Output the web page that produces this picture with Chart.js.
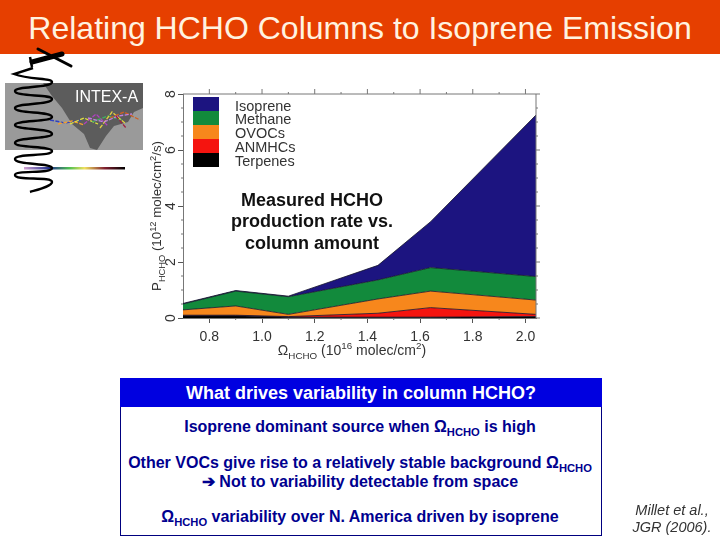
<!DOCTYPE html>
<html>
<head>
<meta charset="utf-8">
<title>Relating HCHO Columns to Isoprene Emission</title>
<script src="https://cdn.jsdelivr.net/npm/chart.js@4"></script>
<style>
  html, body { margin: 0; padding: 0; background: #fff; }
  #page { position: relative; width: 720px; height: 540px; overflow: hidden; font-family: "Liberation Sans", Arial, sans-serif; }
  #page > * { position: absolute; }
  #chart { left: 0; top: 0; }
  #header { left: 0; top: 0; width: 720px; height: 54px; background: #e63f00; }
  #title { left: 0; top: 9px; width: 720px; text-align: center; color: #fff3e0; font-size: 32px; line-height: 38px; white-space: nowrap; }
  #deco { left: 0; top: 0; }
  #inset { left: 75px; top: 88px; color: #fff; font-size: 16px; line-height: 18px; }
  .legend-swatch { left: 193px; width: 26px; height: 14px; }
  .legend-label { left: 235px; font-size: 14.5px; line-height: 14px; color: #333; }
  #note { left: 202px; top: 190px; width: 220px; text-align: center; font-weight: bold; font-size: 18px; line-height: 21.3px; color: #111; }
  #xtitle { left: 183px; top: 342px; width: 338px; text-align: center; font-size: 14px; line-height: 16px; color: #333; white-space: nowrap; }
  #ytitle { left: 157px; top: 291px; transform-origin: 0 0; transform: translate(-8px, 0) rotate(-90deg); font-size: 13.3px; line-height: 16px; color: #333; white-space: nowrap; }
  sub, sup { font-size: 70%; line-height: 0; }
  #box { left: 120px; top: 378px; width: 480px; height: 156px; border: 1px solid #00007f; background: #fff; }
  #boxhead { left: 120px; top: 378px; width: 482px; height: 29px; background: #0000e0; color: #fff; font-weight: bold; font-size: 18px; line-height: 30px; text-align: center; }
  .line { left: 120px; width: 480px; text-align: center; color: #00008f; font-weight: bold; font-size: 16px; line-height: 19px; white-space: nowrap; }
  #cite { left: 627px; top: 502px; width: 90px; text-align: center; font-style: italic; font-size: 14.5px; line-height: 17px; color: #333; white-space: nowrap; }
</style>
</head>
<body>
<div id="page">
  <canvas id="chart" width="720" height="540"></canvas>
  <div id="header"></div>
  <div id="title">Relating HCHO Columns to Isoprene Emission</div>
  <svg id="deco" width="720" height="200">
    <rect x="5" y="83" width="138" height="67" fill="#9a9a9a"/>
    <path d="M43 83 L143 83 L143 108 L134 112 L128 122 L114 126 L106 136 L97 150 L90 148 L84 134 L72 124 L62 108 L52 96 Z" fill="#5c5c5c"/>
    <g fill="none" stroke-width="1.3" stroke-dasharray="4 1.5">
      <path d="M50 120 L66 123 L82 120" stroke="#3040c0"/>
      <path d="M58 124 L72 121 L84 125" stroke="#f0a030"/>
      <path d="M70 124 L84 118 L98 124" stroke="#e0e040"/>
      <path d="M84 124 L96 114 L108 126" stroke="#b040c0"/>
      <path d="M92 122 L108 116 L122 120" stroke="#40b060"/>
      <path d="M100 128 L112 112 L126 124" stroke="#e0d040"/>
      <path d="M110 118 L124 112 L140 120" stroke="#d06020"/>
      <path d="M88 118 L104 122 L118 116 L132 114" stroke="#c080e0"/>
      <path d="M116 116 L126 128" stroke="#a02040"/>
    </g>
    <defs><linearGradient id="bar"><stop offset="0" stop-color="#d0a0d0"/><stop offset=".25" stop-color="#203090"/><stop offset=".45" stop-color="#50c050"/><stop offset=".6" stop-color="#f0e060"/><stop offset=".8" stop-color="#802030"/><stop offset="1" stop-color="#000"/></linearGradient></defs>
    <rect x="24" y="167" width="101" height="2.5" fill="url(#bar)"/>
    <path d="M33 68 L14 74 C30 80 52 78 52 82 C52 88 15 86 15 91 C15 97 52 94 52 99 C52 105 15 103 15 108 C15 114 52 111 52 117 C52 122 15 120 15 125 C15 130 52 128 52 134 C52 139 15 137 15 143 C15 148 52 146 52 151 C52 157 15 153 15 159 C15 165 52 163 52 168 C52 174 15 170 15 175 C15 181 52 176 52 182 C52 186 40 189 30 192" fill="none" stroke="#000" stroke-width="2.4"/>
    <path d="M32 62 L62 54" stroke="#000" stroke-width="5" stroke-linecap="round"/>
    <path d="M38 49 L71 66" stroke="#000" stroke-width="3" stroke-linecap="round"/>
    <path d="M30 57 L32 67" stroke="#000" stroke-width="2.5"/>
  </svg>
  <div id="inset">INTEX-A</div>
  <div id="note">Measured HCHO<br>production rate vs.<br>column amount</div>
  <div id="xtitle">&Omega;<sub>HCHO</sub> (10<sup>16</sup> molec/cm<sup>2</sup>)</div>
  <div id="ytitle">P<sub>HCHO</sub> (10<sup>12</sup> molec/cm<sup>2</sup>/s)</div>
  <div id="box"></div>
  <div id="boxhead">What drives variability in column HCHO?</div>
  <div class="line" style="top:417px">Isoprene dominant source when &Omega;<sub>HCHO</sub> is high</div>
  <div class="line" style="top:453px">Other VOCs give rise to a relatively stable background &Omega;<sub>HCHO</sub></div>
  <div class="line" style="top:472px">&#10132; Not to variability detectable from space</div>
  <div class="line" style="top:507px">&Omega;<sub>HCHO</sub> variability over N. America driven by isoprene</div>
  <div id="cite">Millet et al.,<br>JGR (2006).</div>
</div>
<script>
// values, layers are stacked bottom to top
const columnAmount = [0.7, 0.9, 1.1, 1.44, 1.64, 2.04];
const terpenes = [0.08, 0.08, 0.03, 0.03, 0.03, 0.05];
const anmhcs   = [0.02, 0.02, 0.02, 0.14, 0.34, 0.08];
const ovocs    = [0.19, 0.33, 0.08, 0.51, 0.59, 0.51];
const methane  = [0.21, 0.53, 0.63, 0.68, 0.84, 0.84];
const isoprene = [0.02, 0.02, 0.02, 0.52, 1.64, 5.77];

const xTicks = [0.8, 1.0, 1.2, 1.4, 1.6, 1.8, 2.0];
const xMinorTicks = [0.9, 1.1, 1.3, 1.5, 1.7, 1.9];
const yTicks = [0, 2, 4, 6, 8];
const yMinorTicks = [0.5, 1, 1.5, 2.5, 3, 3.5, 4.5, 5, 5.5, 6.5, 7, 7.5];

const legendNames = ['Isoprene', 'Methane', 'OVOCs', 'ANMHCs', 'Terpenes'];
const legendColors = ['#1c1480', '#128a3c', '#f7871c', '#f5140f', '#000000'];

// legend sits inside the plot, swatches touching each other
const page = document.getElementById('page');
legendNames.forEach(function (name, i) {
    const sw = document.createElement('div');
    sw.className = 'legend-swatch';
    sw.style.top = (97 + i * 14) + 'px';
    sw.style.background = legendColors[i];
    page.appendChild(sw);
    const lab = document.createElement('div');
    lab.className = 'legend-label';
    lab.style.top = (98.5 + i * 13.8) + 'px';
    lab.textContent = name;
    page.appendChild(lab);
});

function layer(label, values, color, fill) {
    return {
        label: label,
        data: values.map(function (v, i) { return { x: columnAmount[i], y: v }; }),
        backgroundColor: color,
        borderColor: '#14142a',
        borderWidth: 0.8,
        pointRadius: 0,
        tension: 0,
        fill: fill
    };
}

// top and right axes, minor ticks and the turned y labels
const axisFrame = {
    id: 'axisFrame',
    afterDraw: function (chart) {
        const c = chart.ctx, a = chart.chartArea;
        const x = chart.scales.x, y = chart.scales.y;
        c.save();
        c.strokeStyle = '#777';
        c.lineWidth = 1;
        c.beginPath();
        c.moveTo(a.left, a.top); c.lineTo(a.right, a.top); c.lineTo(a.right, a.bottom);
        xTicks.forEach(function (v) {
            const p = x.getPixelForValue(v);
            c.moveTo(p, a.top); c.lineTo(p, a.top - 5);
        });
        xMinorTicks.forEach(function (v) {
            const p = x.getPixelForValue(v);
            c.moveTo(p, a.top); c.lineTo(p, a.top - 2);
            c.moveTo(p, a.bottom); c.lineTo(p, a.bottom + 2);
        });
        yTicks.forEach(function (v) {
            const p = y.getPixelForValue(v);
            c.moveTo(a.right, p); c.lineTo(a.right + 4, p);
        });
        yMinorTicks.forEach(function (v) {
            const p = y.getPixelForValue(v);
            c.moveTo(a.left, p); c.lineTo(a.left - 2, p);
            c.moveTo(a.right, p); c.lineTo(a.right + 2, p);
        });
        c.stroke();
        c.fillStyle = '#333';
        c.font = '14px "Liberation Sans", Arial, sans-serif';
        c.textAlign = 'center';
        c.textBaseline = 'middle';
        yTicks.forEach(function (v) {
            c.save();
            c.translate(171, y.getPixelForValue(v));
            c.rotate(-Math.PI / 2);
            c.fillText(String(v), 0, 0);
            c.restore();
        });
        c.restore();
    }
};

new Chart(document.getElementById('chart'), {
    type: 'line',
    data: {
        datasets: [
            layer('Terpenes', terpenes, legendColors[4], 'origin'),
            layer('ANMHCs', anmhcs, legendColors[3], '-1'),
            layer('OVOCs', ovocs, legendColors[2], '-1'),
            layer('Methane', methane, legendColors[1], '-1'),
            layer('Isoprene', isoprene, legendColors[0], '-1')
        ]
    },
    options: {
        responsive: false,
        animation: false,
        layout: { padding: { left: 0, top: 94, right: 184, bottom: 0 } },
        plugins: { legend: { display: false }, tooltip: { enabled: false }, title: { display: false } },
        scales: {
            x: {
                type: 'linear',
                min: 0.7,
                max: 2.04,
                afterBuildTicks: function (s) { s.ticks = xTicks.map(function (v) { return { value: v }; }); },
                afterFit: function (s) { s.height = 222; },
                grid: { drawOnChartArea: false, tickLength: 5, color: '#555' },
                border: { color: '#777' },
                ticks: {
                    color: '#333',
                    padding: 6,
                    maxRotation: 0,
                    font: { family: '"Liberation Sans", Arial, sans-serif', size: 14 },
                    callback: function (v) { return v.toFixed(1); }
                }
            },
            y: {
                stacked: true,
                min: 0,
                max: 8,
                afterBuildTicks: function (s) { s.ticks = yTicks.map(function (v) { return { value: v }; }); },
                afterFit: function (s) { s.width = 183; },
                grid: { drawOnChartArea: false, tickLength: 5, color: '#555' },
                border: { color: '#777' },
                ticks: { display: false }
            }
        }
    },
    plugins: [axisFrame]
});
</script>
</body>
</html>
